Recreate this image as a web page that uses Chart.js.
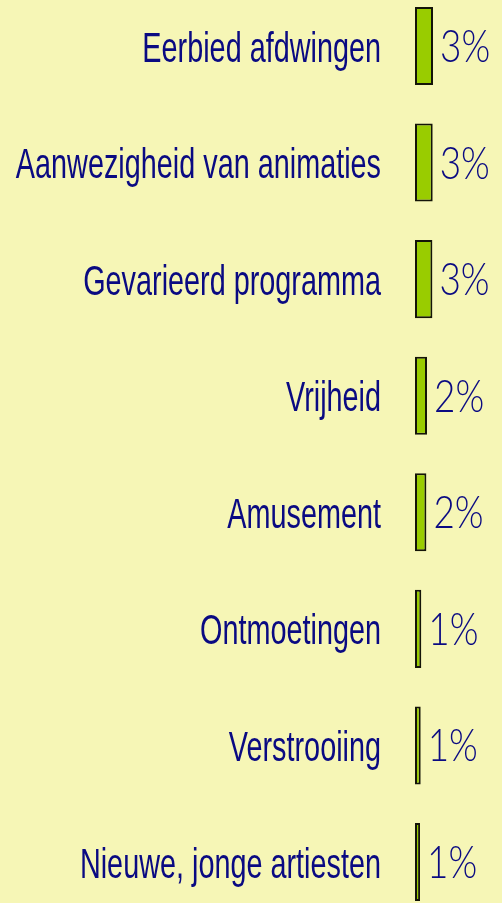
<!DOCTYPE html>
<html>
<head>
<meta charset="utf-8">
<script src="https://cdn.jsdelivr.net/npm/chart.js@4"></script>
<style>
    html, body { margin: 0; padding: 0; background: #f6f6b6; }
    #wrap { width: 502px; height: 903px; }
</style>
</head>
<body>
<div id="wrap"><canvas id="chart"></canvas></div>
<script>
const categories = [
    'Eerbied afdwingen',
    'Aanwezigheid van animaties',
    'Gevarieerd programma',
    'Vrijheid',
    'Amusement',
    'Ontmoetingen',
    'Verstrooiing',
    'Nieuwe, jonge artiesten'
];
const values = [3.0, 2.95, 2.9, 2.0, 1.9, 1.05, 0.95, 0.85];
const valueLabels = ['3%', '3%', '3%', '2%', '2%', '1%', '1%', '1%'];

const navy = '#0a0a82';

// condensed category names + percentages, placed from the chart's own scales
const labelPlugin = {
    id: 'condensedLabels',
    afterDatasetsDraw(chart) {
        const ctx = chart.ctx;
        const yScale = chart.scales.y;
        const meta = chart.getDatasetMeta(0);
        ctx.save();
        ctx.fillStyle = navy;
        ctx.textBaseline = 'alphabetic';

        ctx.font = '43px "Liberation Sans"';
        ctx.textAlign = 'right';
        chart.data.labels.forEach(function (label, i) {
            const y = yScale.getPixelForTick(i);
            ctx.save();
            ctx.translate(yScale.right - 34, y + 15.5);
            ctx.scale(0.67, 1);
            ctx.fillText(label, 0, 0);
            ctx.restore();
        });

        ctx.font = '300 45px Lato';
        ctx.textAlign = 'left';
        meta.data.forEach(function (bar, i) {
            ctx.save();
            ctx.translate(bar.x + 7, bar.y + 16);
            ctx.scale(0.82, 1);
            ctx.fillText(valueLabels[i], 0, 0);
            ctx.restore();
        });
        ctx.restore();
    }
};

document.addEventListener('DOMContentLoaded', function () {
    new Chart(document.getElementById('chart').getContext('2d'), {
        type: 'bar',
        data: {
            labels: categories,
            datasets: [{
                data: values,
                backgroundColor: '#99cc00',
                borderColor: '#141408',
                borderWidth: 2,
                borderSkipped: false,
                barPercentage: 0.67,
                categoryPercentage: 1,
                clip: false
            }]
        },
        options: {
            indexAxis: 'y',
            responsive: true,
            maintainAspectRatio: false,
            animation: false,
            layout: {
                padding: { top: 46, bottom: 41, left: 0, right: 0 }
            },
            plugins: {
                legend: { display: false },
                tooltip: { enabled: false }
            },
            scales: {
                x: {
                    display: false,
                    min: 0,
                    max: 14.5
                },
                y: {
                    offset: false,
                    grid: { display: false, drawTicks: false, offset: false },
                    border: { display: false },
                    ticks: { display: false },
                    afterFit: function (scale) {
                        scale.width = 415;
                        scale.paddingTop = 0;
                        scale.paddingBottom = 0;
                    }
                }
            }
        },
        plugins: [labelPlugin]
    });
});
</script>
</body>
</html>
